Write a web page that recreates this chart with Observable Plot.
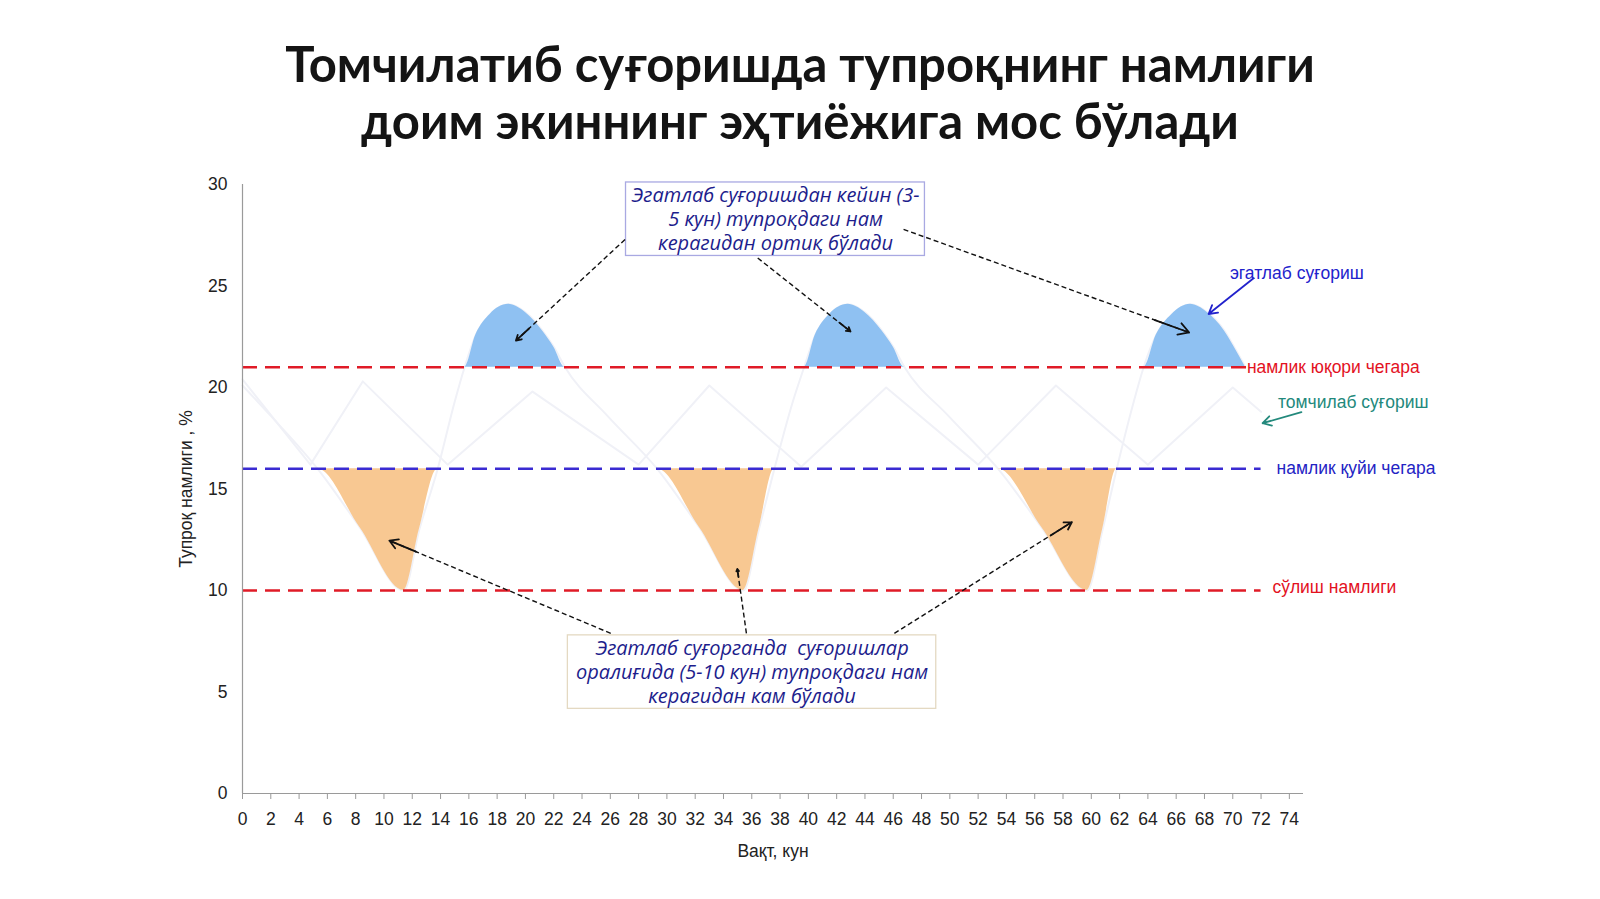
<!DOCTYPE html>
<html>
<head>
<meta charset="utf-8">
<script src="https://cdn.jsdelivr.net/npm/d3@7"></script>
<script src="https://cdn.jsdelivr.net/npm/@observablehq/plot@0.6"></script>
<style>
  html, body { margin: 0; padding: 0; background: #fff; }
  #page { width: 1600px; height: 899px; position: relative; overflow: hidden; }
  #title { position: absolute; left: 0; top: 0; width: 1600px; padding-top: 35px;
    text-align: center; font-family: Lato, "Open Sans", sans-serif; font-weight: 700;
    font-size: 49px; line-height: 57px; color: #141414; }
  #chart { position: absolute; left: 0; top: 160px; }
</style>
</head>
<body>
<div id="page">
  <div id="title">Томчилатиб суғоришда тупроқнинг намлиги<br>доим экиннинг эҳтиёжига мос бўлади</div>
  <div id="chart"></div>
</div>
<script>
// Furrow irrigation (эгатлаб суғориш) soil moisture, % vs day
const furrowDays = [0, 2.0, 5.3, 8.3, 11.4, 12.5, 13.8, 15.0, 15.7, 16.5, 17.5, 18.8, 20.0, 21.2, 22.0, 22.8,
  25.8, 29.3, 32.3, 35.4, 36.5, 37.6, 38.9, 39.7, 40.5, 41.5, 42.8, 44.0, 45.2, 46.0, 46.8,
  49.9, 53.4, 56.5, 59.7, 60.8, 61.8, 63.0, 63.7, 64.6, 65.7, 67.0, 68.2, 69.4, 70.1, 70.9];
const furrowMoisture = [20.1, 18.6, 16.0, 13.1, 10.0, 13.0, 16.0, 19.3, 21.0, 22.6, 23.6, 24.1, 23.7, 22.8, 22.0, 21.0,
  18.6, 16.0, 13.1, 10.0, 13.0, 16.0, 19.3, 21.0, 22.6, 23.6, 24.1, 23.7, 22.8, 22.0, 21.0,
  18.6, 16.0, 13.1, 10.0, 13.0, 16.0, 19.3, 21.0, 22.6, 23.6, 24.1, 23.7, 22.8, 22.0, 21.0];

// Drip irrigation (томчилаб суғориш) soil moisture
const dripDays = [0, 4.8, 8.5, 14.5, 20.5, 28.0, 33.0, 39.5, 45.5, 52.0, 57.5, 64.0, 70.0, 72.0];
const dripMoisture = [20.4, 16.2, 20.3, 16.2, 19.8, 16.2, 20.1, 16.1, 20.0, 16.2, 20.1, 16.2, 20.0, 18.8];

// Threshold levels
const thresholdNames = ["намлик юқори чегара", "намлик қуйи чегара", "сўлиш намлиги"];
const thresholdValues = [21, 16, 10];

const yTicks = [0, 5, 10, 15, 20, 25, 30];
const xTicks = [0, 2, 4, 6, 8, 10, 12, 14, 16, 18, 20, 22, 24, 26, 28, 30, 32, 34, 36, 38,
  40, 42, 44, 46, 48, 50, 52, 54, 56, 58, 60, 62, 64, 66, 68, 70, 72, 74];

const xLabel = "Вақт, кун";
const yLabel = "Тупроқ намлиги , %";
const seriesFurrowName = "эгатлаб суғориш";
const seriesDripName = "томчилаб суғориш";
const noteTop = "Эгатлаб суғоришдан кейин (3-\n5 кун) тупроқдаги нам\nкерагидан ортиқ бўлади";
const noteBottom = "Эгатлаб суғорганда  суғоришлар\nоралиғида (5-10 кун) тупроқдаги нам\nкерагидан кам бўлади";

// ---- build tables ----
const furrow = furrowDays.map((d, i) => ({day: d, v: furrowMoisture[i]}));
const drip = dripDays.map((d, i) => ({day: d, v: dripMoisture[i]}));
const upper = thresholdValues[0], lower = thresholdValues[1], wilt = thresholdValues[2];

// annotation layout (data coordinates)
const thrLines = [
  {y: upper, x2: 71.0, color: "#e01b27"},
  {y: lower, x2: 72.0, color: "#3a2bd2"},
  {y: wilt, x2: 72.0, color: "#e01b27"}
];
const thrLabels = [
  {x: 71.0, y: upper, text: thresholdNames[0], color: "#e3121f"},
  {x: 73.1, y: lower, text: thresholdNames[1], color: "#2323c4"},
  {x: 72.8, y: wilt + 0.15, text: thresholdNames[2], color: "#e3121f"},
  {x: 69.8, y: 25.6, text: seriesFurrowName, color: "#2222cc"},
  {x: 73.2, y: 19.25, text: seriesDripName, color: "#23897c"}
];
const boxes = [
  {x1: 27.11, x2: 48.24, y1: 26.48, y2: 30.10, stroke: "#a9a9e2"},
  {x1: 23.0, x2: 49.04, y1: 4.17, y2: 7.79, stroke: "#e4d9c2"}
];
const notes = [
  {x: 37.68, y: 28.33, text: noteTop},
  {x: 36.02, y: 6.02, text: noteBottom}
];
const dashedArrows = [
  {x1: 27.04, y1: 27.29, x2: 19.33, y2: 22.31},
  {x1: 36.42, y1: 26.38, x2: 42.98, y2: 22.76},
  {x1: 46.73, y1: 27.79, x2: 66.92, y2: 22.71},
  {x1: 26.03, y1: 7.89, x2: 10.38, y2: 12.46},
  {x1: 35.62, y1: 7.89, x2: 34.98, y2: 11.06},
  {x1: 46.08, y1: 7.89, x2: 58.63, y2: 13.37}
];
const solidArrows = [
  {x1: 71.47, y1: 25.38, x2: 68.29, y2: 23.62, color: "#2222cc"},
  {x1: 74.85, y1: 18.79, x2: 72.11, y2: 18.24, color: "#23897c"}
];
// short tails of the dashed arrows, carrying a solid head
const heads = dashedArrows.map(a => ({
  x1: a.x2 + (a.x1 - a.x2) * 0.12, y1: a.y2 + (a.y1 - a.y2) * 0.12, x2: a.x2, y2: a.y2
}));

const sans = "'Liberation Sans', Arial, sans-serif";

const chart = Plot.plot({
  width: 1600,
  height: 720,
  marginTop: 24,
  marginBottom: 87,
  marginLeft: 242,
  marginRight: 297,
  style: {background: "#fff", fontFamily: sans, overflow: "visible"},
  x: {domain: [0, 75]},
  y: {domain: [0, 30]},
  marks: [
    // faint drip & furrow lines
    Plot.line(drip, {x: "day", y: "v", stroke: "#f0f1f7", strokeWidth: 2}),
    Plot.line(furrow, {x: "day", y: "v", stroke: "#f0f1f7", strokeWidth: 2, curve: "monotone-x"}),
    // excess / deficit areas
    Plot.areaY(furrow, {x: "day", y1: d => upper, y2: d => Math.max(d.v, upper), fill: "#8fc1f2", curve: "monotone-x"}),
    Plot.areaY(furrow, {x: "day", y1: d => lower, y2: d => Math.min(d.v, lower), fill: "#f8c892", curve: "monotone-x"}),
    // thresholds
    Plot.ruleY(thrLines, {y: "y", x1: 0, x2: "x2", stroke: "color", strokeWidth: 2.6, strokeDasharray: "15,8"}),
    // axes
    Plot.ruleX([0], {stroke: "#9a9a9a", strokeWidth: 1.2}),
    Plot.ruleY([0], {x1: 0, x2: 75, stroke: "#9a9a9a", strokeWidth: 1.2}),
    Plot.axisY({ticks: yTicks, tickSize: 0, tickPadding: 15, fontSize: 17.5, label: null, fill: "#222"}),
    Plot.axisX({ticks: xTicks, tickSize: 6, tickPadding: 13, fontSize: 17.5, label: null, fill: "#222", stroke: "#9a9a9a"}),
    Plot.text([xLabel], {frameAnchor: "bottom", textAnchor: "middle", lineAnchor: "middle", dy: 58, fontSize: 17.5, fill: "#222"}),
    Plot.text([yLabel], {frameAnchor: "left", textAnchor: "middle", lineAnchor: "middle", dx: -56, rotate: -90, fontSize: 17.5, fill: "#222"}),
    // callout boxes
    Plot.rect(boxes, {x1: "x1", x2: "x2", y1: "y1", y2: "y2", fill: "#fff", stroke: "stroke", strokeWidth: 1.3}),
    Plot.text(notes, {x: "x", y: "y", text: "text", fontFamily: "'Open Sans', 'Noto Sans', sans-serif",
      fontStyle: "italic", fontSize: 20, lineHeight: 1.2, fill: "#1d1d8c"}),
    Plot.link(dashedArrows, {x1: "x1", y1: "y1", x2: "x2", y2: "y2", stroke: "#111", strokeWidth: 1.4, strokeDasharray: "5,3"}),
    Plot.arrow(heads, {x1: "x1", y1: "y1", x2: "x2", y2: "y2", stroke: "#111", strokeWidth: 1.8, headLength: 10}),
    Plot.arrow(solidArrows, {x1: "x1", y1: "y1", x2: "x2", y2: "y2", stroke: "color", strokeWidth: 1.8, headLength: 8}),
    // right-hand labels
    Plot.text(thrLabels, {x: "x", y: "y", text: "text", fill: "color", textAnchor: "start", fontSize: 17.5})
  ]
});
document.getElementById("chart").appendChild(chart);
</script>
</body>
</html>
